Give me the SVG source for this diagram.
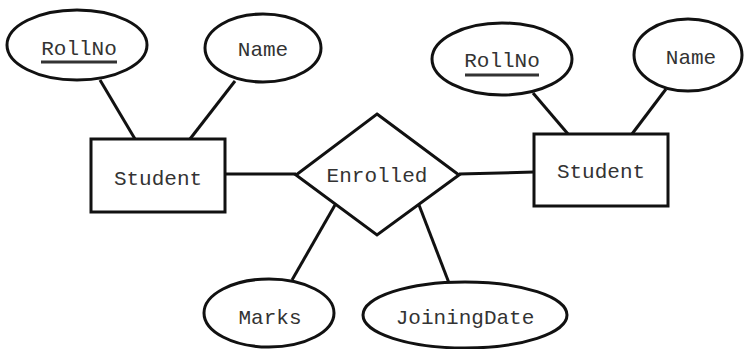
<svg xmlns="http://www.w3.org/2000/svg" width="745" height="349" viewBox="0 0 745 349">
<style>
.s{fill:#fff;stroke:#111;stroke-width:3}
.c{stroke:#111;stroke-width:3;fill:none}
text{font-family:"Liberation Mono","Courier New",monospace;font-size:21px;fill:#333;text-anchor:middle}
.u{stroke:#333;stroke-width:3}
</style>
<rect width="745" height="349" fill="#fff"/>
<g id="connectors">
<line class="c" x1="100" y1="80" x2="135" y2="139"/>
<line class="c" x1="235" y1="81" x2="190" y2="139"/>
<line class="c" x1="225" y1="174" x2="296" y2="174"/>
<line class="c" x1="459" y1="174" x2="534" y2="172"/>
<line class="c" x1="533" y1="93" x2="568" y2="134"/>
<line class="c" x1="666" y1="89" x2="632" y2="134"/>
<line class="c" x1="335" y1="205" x2="292" y2="280"/>
<line class="c" x1="419" y1="205" x2="449" y2="283"/>
</g>
<g id="rollno1">
<ellipse class="s" cx="77" cy="45" rx="70" ry="35"/>
<text x="79" y="55">RollNo</text>
<line class="u" x1="41" y1="62" x2="117" y2="62"/>
</g>
<g id="name1">
<ellipse class="s" cx="263" cy="48" rx="58" ry="34"/>
<text x="263" y="56">Name</text>
</g>
<g id="student1">
<rect class="s" x="91" y="139" width="134" height="73"/>
<text x="158" y="185">Student</text>
</g>
<g id="enrolled">
<polygon class="s" points="377,114 459,175 377,235 296,175"/>
<text x="377" y="182">Enrolled</text>
</g>
<g id="student2">
<rect class="s" x="534" y="134" width="134" height="72"/>
<text x="601" y="178">Student</text>
</g>
<g id="rollno2">
<ellipse class="s" cx="502" cy="59" rx="70" ry="36"/>
<text x="502" y="67">RollNo</text>
<line class="u" x1="465" y1="75" x2="539" y2="75"/>
</g>
<g id="name2">
<ellipse class="s" cx="688" cy="55" rx="54" ry="36"/>
<text x="691" y="64">Name</text>
</g>
<g id="marks">
<ellipse class="s" cx="269" cy="313" rx="65" ry="34"/>
<text x="270" y="324">Marks</text>
</g>
<g id="joiningdate">
<ellipse class="s" cx="465" cy="315" rx="102" ry="33"/>
<text x="465" y="324">JoiningDate</text>
</g>
</svg>
